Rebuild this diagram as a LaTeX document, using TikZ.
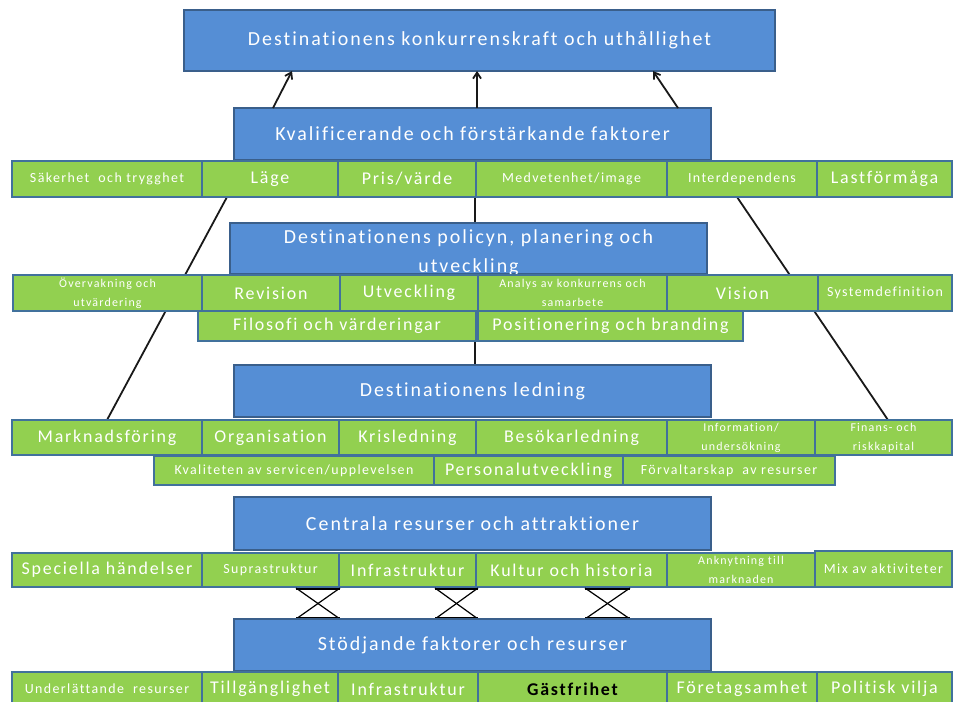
\documentclass[tikz,border=0pt]{standalone}
\usepackage{fontspec}
\setmainfont{Carlito}[LetterSpace=10, Ligatures={NoCommon}]
\usetikzlibrary{arrows.meta}
\definecolor{bluefill}{HTML}{558ED5}
\definecolor{blueedge}{HTML}{3A5F8B}
\definecolor{greenfill}{HTML}{92D050}
\definecolor{greenedge}{HTML}{41719C}
\tikzset{
  base/.style={draw, line width=1.2bp, inner sep=0pt, outer sep=0pt, anchor=north west, align=center, text=white},
  bluefont/.style={font=\fontsize{20}{29}\selectfont},
  bluebox/.style={base, fill=bluefill, draw=blueedge, bluefont},
  gbig/.style={base, fill=greenfill, draw=greenedge, font=\fontsize{18}{20}\selectfont},
  gsmall/.style={base, fill=greenfill, draw=greenedge, font=\fontsize{14}{16}\selectfont},
  gtiny/.style={base, fill=greenfill, draw=greenedge, font=\fontsize{12}{19}\selectfont},
  conn/.style={line width=1.8bp, black!90},
  arr/.style={conn, -{Straight Barb[length=6bp,width=8bp]}},
  hourglass/.style={line width=1.2bp, black},
  hbar/.style={line width=2bp, black},
}
\newcommand\mybox[7]{\node[#1, minimum width={(#5-#3)*1bp}, minimum height={(#6-#4)*1bp}] (#2) at (#3,#4) {#7};}
\begin{document}
\begin{tikzpicture}[x=1bp, y=-1bp]
\useasboundingbox (0,0) rectangle (954,702);
\clip (0,0) rectangle (954,702);

% blue headers
\mybox{bluebox}{top}{184}{10}{775}{71}{Destinationens konkurrenskraft och uthållighet}
\mybox{bluebox}{kval}{234}{108}{711}{160}{Kvalificerande och förstärkande faktorer}

% long connectors (behind the boxes)
\coordinate (l1top) at (107,420);
\coordinate (s2bot) at (227,197);
\coordinate (s5bot) at (737,197);
\coordinate (l6top) at (888,420);
\coordinate (midtop) at (475,197);
\coordinate (midbot) at (475,365);
\draw[conn] (s2bot) -- (l1top);
\draw[conn] (s5bot) -- (l6top);
\draw[conn] (midtop) -- (midbot);

% row 1
\mybox{gsmall}{s1}{12}{161}{202}{197}{Säkerhet\ \ och trygghet}
\mybox{gbig}{s2}{202}{161}{338}{197}{Läge}
\mybox{gbig}{s3}{338}{161}{476}{197}{Pris/värde}
\mybox{gsmall}{s4}{476}{161}{667}{197}{Medvetenhet/image}
\mybox{gsmall}{s5}{667}{161}{817}{197}{Interdependens}
\mybox{gbig}{s6}{817}{161}{952}{197}{Lastförmåga}

% policy
\mybox{bluebox}{pol}{230}{223}{707}{274}{}
\node[bluefont, text=white, align=center, inner sep=0pt] (poltext) at ([yshift=-4bp]pol.center) {Destinationens policyn, planering och\\utveckling};
\mybox{gtiny}{p1}{13}{275}{202}{311}{Övervakning och\\utvärdering}
\mybox{gbig}{p2}{202}{275}{340}{311}{Revision}
\mybox{gbig}{p3}{340}{275}{478}{311}{Utveckling}
\mybox{gtiny}{p4}{478}{275}{667}{311}{Analys av konkurrens och\\samarbete}
\mybox{gbig}{p5}{667}{275}{818}{311}{Vision}
\mybox{gsmall}{p6}{818}{275}{952}{311}{Systemdefinition}
\mybox{gbig}{p7}{198}{311}{476}{341}{Filosofi och värderingar}
\mybox{gbig}{p8}{478}{311}{743}{341}{Positionering och branding}

% ledning
\mybox{bluebox}{led}{234}{365}{711}{417}{Destinationens ledning}
\mybox{gbig}{l1}{12}{420}{202}{455}{Marknadsföring}
\mybox{gbig}{l2}{202}{420}{339}{455}{Organisation}
\mybox{gbig}{l3}{339}{420}{476}{455}{Krisledning}
\mybox{gbig}{l4}{476}{420}{667}{455}{Besökarledning}
\mybox{gtiny}{l5}{667}{420}{815}{455}{Information/\\undersökning}
\mybox{gtiny}{l6}{815}{420}{952}{455}{Finans- och\\riskkapital}
\mybox{gsmall}{l7}{154}{456}{434}{485}{Kvaliteten av servicen/upplevelsen}
\mybox{gbig}{l8}{434}{456}{623}{485}{Personalutveckling}
\mybox{gsmall}{l9}{623}{456}{835}{485}{Förvaltarskap\ \ av resurser}

% centrala
\mybox{bluebox}{cen}{234}{497}{711}{550}{Centrala resurser och attraktioner}
\mybox{gbig}{c1}{12}{553}{202}{587}{Speciella händelser}
\mybox{gsmall}{c2}{202}{553}{339}{587}{Suprastruktur}
\mybox{gbig}{c3}{339}{553}{476}{587}{Infrastruktur}
\mybox{gbig}{c4}{476}{553}{667}{587}{Kultur och historia}
\mybox{gtiny}{c5}{667}{553}{815}{587}{Anknytning till\\marknaden}
\mybox{gsmall}{c6}{815}{551}{952}{587}{Mix av aktiviteter}

% hourglass connectors
\foreach \a/\b in {296/340, 435/478, 585/630}{
  \draw[hourglass] (\a,588) -- (\b,619);
  \draw[hourglass] (\b,588) -- (\a,619);
  \draw[hbar] (\a,588.5) -- (\b,588.5);
  \draw[hbar] (\a,618) -- (\b,618);
}

% stodjande
\mybox{bluebox}{sto}{234}{619}{711}{671}{Stödjande faktorer och resurser}
\mybox{gsmall}{f1}{12}{672}{202}{706}{Underlättande\ \ resurser}
\mybox{gbig}{f2}{202}{672}{338}{706}{Tillgänglighet}
\mybox{gbig}{f3}{338}{672}{478}{706}{Infrastruktur}
\mybox{gbig}{f4}{478}{672}{667}{706}{\textcolor{black}{\bfseries Gästfrihet}}
\mybox{gbig}{f5}{667}{672}{817}{706}{Företagsamhet}
\mybox{gbig}{f6}{817}{672}{952}{706}{Politisk vilja}

% arrows to top
\draw[arr] ([xshift=39bp]kval.north west) -- ([xshift=108bp]top.south west);
\draw[arr] ([xshift=243bp]kval.north west) -- ([xshift=293bp]top.south west);
\draw[arr] ([xshift=444bp]kval.north west) -- ([xshift=469bp]top.south west);
\end{tikzpicture}
\end{document}
